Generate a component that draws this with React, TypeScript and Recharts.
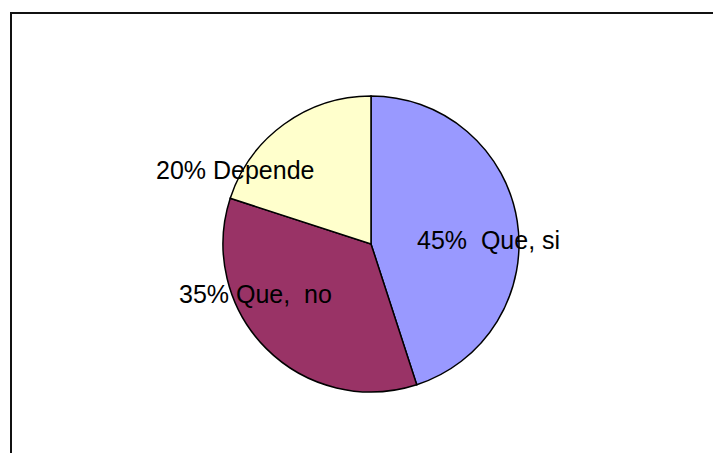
import { PieChart, Pie, Cell } from 'recharts'

const NAMES = ['Que, si', 'Que, no', 'Depende']
const VALUES = [45, 35, 20]
const LABELS = ['45%  Que, si', '35% Que,  no', '20% Depende']
const COLORS = ['#9999FF', '#993366', '#FFFFCC']

// label anchor offsets from pie centre (text start, baseline), in px
const LABEL_OFFSETS = [
  [46, 5],
  [-192, 59],
  [-215, -65],
]

const data = NAMES.map((name, i) => ({ name, value: VALUES[i] }))

const renderLabel = (props: any) => {
  const { cx, cy, index } = props
  const [dx, dy] = LABEL_OFFSETS[index]
  return (
    <text
      x={cx + dx}
      y={cy + dy}
      fill="#000"
      textAnchor="start"
      fontSize={25}
      fontFamily="'Liberation Sans', Arial, sans-serif"
      style={{ whiteSpace: 'pre' }}
    >
      {LABELS[index]}
    </text>
  )
}

export default function App() {
  return (
    <div
      style={{
        position: 'absolute',
        left: 0,
        top: 0,
        width: 713,
        height: 453,
        overflow: 'hidden',
        background: '#fff',
      }}
    >
      <div
        style={{
          position: 'absolute',
          left: 10,
          top: 12,
          width: 800,
          height: 600,
          borderTop: '2px solid #111',
          borderLeft: '2px solid #111',
        }}
      />
      <div style={{ position: 'absolute', left: 0, top: 0 }}>
        <PieChart width={713} height={453} margin={{ top: 0, right: 0, bottom: 0, left: 0 }}>
          <Pie
            data={data}
            dataKey="value"
            cx={371}
            cy={244}
            outerRadius={148}
            startAngle={90}
            endAngle={-270}
            stroke="#000"
            strokeWidth={1.5}
            label={renderLabel}
            labelLine={false}
            isAnimationActive={false}
          >
            {data.map((entry, index) => (
              <Cell key={`cell-${index}`} fill={COLORS[index]} />
            ))}
          </Pie>
        </PieChart>
      </div>
    </div>
  )
}
